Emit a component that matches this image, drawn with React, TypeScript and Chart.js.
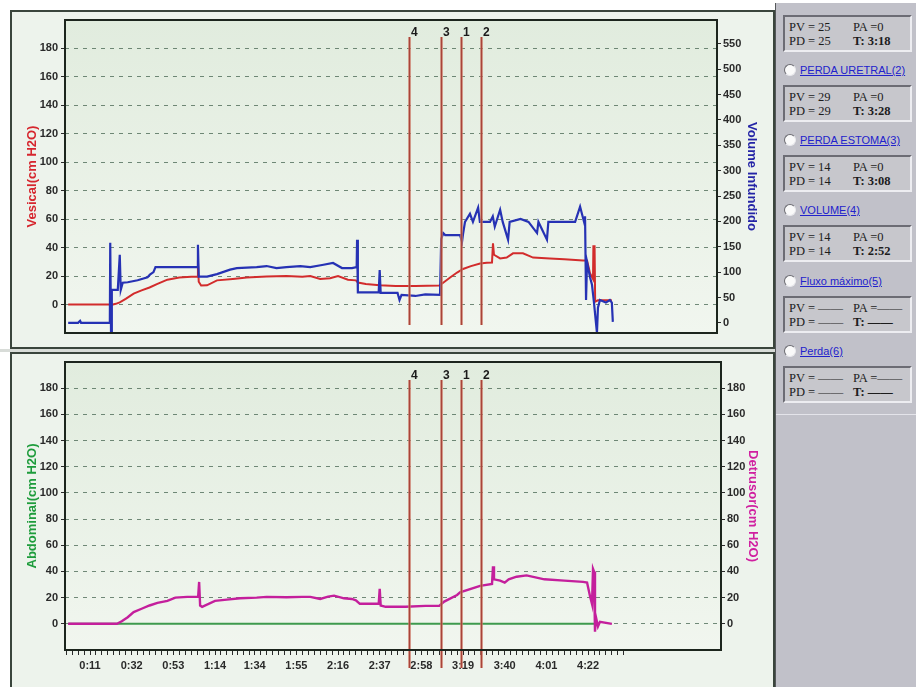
import React, { useEffect, useRef } from "react";
import { Chart, registerables } from "chart.js";
Chart.register(...registerables);

// ---------- DATA ----------
// time in seconds
const vesicalTimes = [0, 22.6, 24, 26, 29, 33, 37, 41, 45, 50, 56, 62, 65, 65.4, 65.8, 67, 70, 75, 83, 90, 100, 110, 118, 122, 127, 132, 136, 141, 145, 146, 150, 157, 165, 175, 187, 188.5, 192.5, 196, 199, 203, 207.6, 211, 213.6, 214.1, 214.6, 217.7, 221, 224.2, 229.2, 234.3, 242.8, 250, 259.5, 261.5, 263, 264.5, 264.7, 265.3, 265.6, 267, 274];
const vesicalValues = [0, 0, 0.5, 1.5, 4, 7.7, 10, 12, 14.5, 17.5, 19, 19.5, 19.5, 31, 16, 13.4, 13.5, 17, 18, 19, 19.7, 20, 19.5, 20, 18, 18.5, 20, 17.5, 17, 15.5, 14.5, 13.5, 13, 13, 13.4, 14.8, 19, 22.5, 25, 27, 28.9, 29.4, 29.6, 43, 35, 32.4, 33, 36, 36, 33, 32.4, 31.8, 31, 31, 22, 18, 41, 41, 2, 3, 3];

const volumeTimes = [0, 5, 6, 6.5, 21, 21.2, 21.6, 22, 25, 26, 26.5, 27.5, 30, 35, 40, 41.2, 43, 44, 55, 65, 65.4, 65.8, 70, 75, 81.6, 85, 95, 100, 105, 110, 117, 122, 128, 133.5, 138, 143, 145.4, 145.6, 146, 156.5, 157, 157.5, 166, 167, 168, 175, 180, 187.4, 188, 189, 190, 197.5, 198.5, 199, 200, 202.5, 204, 206.6, 207.5, 212.6, 214, 215, 217.7, 219, 221.7, 222.5, 228, 232, 236.3, 237, 241.3, 242, 248, 255.5, 258, 260, 260.5, 261, 261.5, 263, 264, 265, 266, 266.5, 267, 268, 271, 273, 274, 274.5];
const volumeValues = [0, 0, 4, 0, 0, 158, -20, 65, 65, 134, 65, 79, 80, 84, 90, 95, 100, 110, 110, 110, 154, 91, 91, 96, 105, 108, 110, 112, 108, 110, 112, 110, 114, 118, 108, 108, 110, 164, 60, 60, 104, 59, 59, 45, 55, 53, 56, 55, 165, 177, 173, 173, 160, 175, 199, 215, 199, 227, 199, 199, 210, 190, 223, 199, 164, 199, 205, 199, 177, 199, 164, 199, 199, 199, 229, 199, 210, 45, 120, 90, 75, 40, 0, -20, 30, 45, 40, 45, 40, 2];

const abdominalTimes = [0, 268];
const abdominalValues = [0, 0];

const detrusorTimes = [0, 24.6, 27, 30, 33, 37, 41, 45, 50, 54, 60, 65.5, 66, 66.5, 67.5, 74, 80, 86.6, 95, 100, 110, 118, 122, 127, 131, 134, 139, 143, 145, 147, 156.5, 157, 157.5, 160, 170, 180, 187, 189.5, 196, 197.5, 207.6, 213.6, 214.1, 214.6, 217.7, 220, 222, 226, 231, 240, 250, 259.5, 261.5, 263, 264, 264.5, 265, 265.5, 266, 267, 268, 274];
const detrusorValues = [0, 0, 2, 5, 9, 11.5, 14, 16, 17.5, 20, 20.6, 20.6, 32, 14, 13, 17.5, 18.5, 19.5, 20, 20.6, 20.3, 20.6, 20.6, 19, 20.8, 21.5, 19.5, 19, 18, 15.3, 15.3, 26.7, 14, 13, 13, 13.7, 13.7, 17, 22, 24, 29, 30.5, 44, 34, 33, 31.5, 34, 36, 37, 34, 33, 32, 31.5, 21, 15, 42, 40, -6, 5, -2, 1.5, 0];

const markerTimes = [172, 188, 198, 208];
const markerLabels = ["4", "3", "1", "2"];

const pressureTicks = [0, 20, 40, 60, 80, 100, 120, 140, 160, 180];
const volumeTicks = [0, 50, 100, 150, 200, 250, 300, 350, 400, 450, 500, 550];
const timeTickValues = [11, 32, 53, 74, 94, 115, 136, 157, 178, 199, 220, 241, 262];
const timeTickLabels = ["0:11", "0:32", "0:53", "1:14", "1:34", "1:55", "2:16", "2:37", "2:58", "3:19", "3:40", "4:01", "4:22"];

const panelLinks = ["PERDA URETRAL(2)", "PERDA ESTOMA(3)", "VOLUME(4)", "Fluxo máximo(5)", "Perda(6)"];
const panelPV = ["25", "29", "14", "14", "——", "——"];
const panelPA = ["0", "0", "0", "0", "——", "——"];
const panelPD = ["25", "29", "14", "14", "——", "——"];
const panelT = ["3:18", "3:28", "3:08", "2:52", "——", "——"];

// ---------- HELPERS ----------
const pts = (ts: number[], vs: number[]) => ts.map((t, i) => ({ x: t, y: vs[i] }));
const TICK_FONT = { family: "'Liberation Sans', Arial, sans-serif", size: 11, weight: "bold" as const };
const TITLE_FONT = { family: "'Liberation Sans', Arial, sans-serif", size: 13, weight: "bold" as const };
const GRID_COLOR = "rgba(70,100,80,0.75)";
const AXIS_DARK = "#2a2a2a";

const plotFrame = {
  id: "plotFrame",
  beforeDraw(chart: any) {
    const { ctx, chartArea: a } = chart;
    const g = ctx.createLinearGradient(0, a.top, 0, a.bottom);
    g.addColorStop(0, "#e1ecde");
    g.addColorStop(1, "#f1f6ef");
    ctx.save();
    ctx.fillStyle = g;
    ctx.fillRect(a.left, a.top, a.right - a.left, a.bottom - a.top);
    ctx.restore();
  },
  afterDraw(chart: any) {
    const { ctx, chartArea: a } = chart;
    ctx.save();
    ctx.strokeStyle = "#1c251d";
    ctx.lineWidth = 2;
    ctx.strokeRect(a.left, a.top, a.right - a.left, a.bottom - a.top);
    ctx.restore();
  },
};

const makeMarkers = (topOff: number, bottomOff: number, labelOff: number) => ({
  id: "markers",
  afterDatasetsDraw(chart: any) {
    const { ctx, chartArea: a, scales } = chart;
    const x = scales.x;
    ctx.save();
    markerTimes.forEach((t, i) => {
      const px = Math.round(x.getPixelForValue(t)) + 0.5;
      ctx.strokeStyle = "rgba(220,140,120,0.6)";
      ctx.lineWidth = 3;
      ctx.beginPath();
      ctx.moveTo(px, a.top + topOff);
      ctx.lineTo(px, a.bottom + bottomOff);
      ctx.stroke();
      ctx.strokeStyle = "#a8443a";
      ctx.lineWidth = 1.5;
      ctx.beginPath();
      ctx.moveTo(px, a.top + topOff);
      ctx.lineTo(px, a.bottom + bottomOff);
      ctx.stroke();
      ctx.fillStyle = "#1a1a1a";
      ctx.font = "bold 12px 'Liberation Sans', Arial, sans-serif";
      ctx.textAlign = "left";
      ctx.textBaseline = "middle";
      ctx.fillText(markerLabels[i], px + 1.5, a.top + labelOff);
    });
    ctx.restore();
  },
});

const yTicks = (vals: number[]) => (scale: any) => {
  scale.ticks = vals.map((v) => ({ value: v }));
};

const leftAxis = (title: string, color: string, width: number) => ({
  position: "left" as const,
  min: -20,
  max: 200,
  afterBuildTicks: yTicks(pressureTicks),
  afterFit: (s: any) => { s.width = width; },
  ticks: { font: TICK_FONT, color: AXIS_DARK, padding: 3, autoSkip: false },
  grid: { color: GRID_COLOR, lineWidth: 1, drawTicks: true, tickLength: 4, tickColor: AXIS_DARK, tickBorderDash: [] },
  border: { display: false, dash: [4, 5] },
  title: { display: true, text: title, color, font: TITLE_FONT, padding: { top: 15, bottom: 0 } },
});

const rightAxis = (title: string, color: string, width: number, min: number, max: number, ticks: number[], pad: number) => ({
  position: "right" as const,
  min,
  max,
  afterBuildTicks: yTicks(ticks),
  afterFit: (s: any) => { s.width = width; },
  ticks: { font: TICK_FONT, color: AXIS_DARK, padding: 2, autoSkip: false },
  grid: { drawOnChartArea: false, drawTicks: true, tickLength: 4, tickColor: AXIS_DARK },
  border: { display: false },
  title: { display: true, text: title, color, font: TITLE_FONT, padding: { top: pad, bottom: 0 } },
});

function TopChart() {
  const ref = useRef<HTMLCanvasElement>(null);
  useEffect(() => {
    const chart = new Chart(ref.current!, {
      type: "line",
      data: {
        datasets: [
          { data: pts(volumeTimes, volumeValues), yAxisID: "y1", borderColor: "#2632b4", borderWidth: 2.2, order: 0 },
          { data: pts(vesicalTimes, vesicalValues), yAxisID: "y", borderColor: "#d22c2c", borderWidth: 2, order: 1 },
        ],
      },
      options: {
        responsive: false,
        animation: false,
        events: [],
        layout: { padding: { top: 10, bottom: 15, left: 0, right: 0 } },
        plugins: { legend: { display: false }, tooltip: { enabled: false } },
        elements: { point: { radius: 0 }, line: { tension: 0 } },
        scales: {
          x: { type: "linear", min: -1.6, max: 327, display: false },
          y: leftAxis("Vesical(cm H2O)", "#d6262e", 55),
          y1: rightAxis("Volume Infundido", "#2424a6", 58, -20, 597, volumeTicks, 16),
        },
      } as any,
      plugins: [plotFrame, makeMarkers(17, -8, 13)],
    });
    return () => chart.destroy();
  }, []);
  return <canvas ref={ref} width={765} height={338} style={{ position: "absolute", left: 10, top: 10 }} />;
}

function BottomChart() {
  const ref = useRef<HTMLCanvasElement>(null);
  useEffect(() => {
    const chart = new Chart(ref.current!, {
      type: "line",
      data: {
        datasets: [
          { data: pts(detrusorTimes, detrusorValues), yAxisID: "y1", borderColor: "#c41f9c", borderWidth: 2.4, order: 0 },
          { data: pts(abdominalTimes, abdominalValues), yAxisID: "y", borderColor: "#3e9a4e", borderWidth: 2, order: 1 },
        ],
      },
      options: {
        responsive: false,
        animation: false,
        events: [],
        layout: { padding: { top: 10, bottom: 0, left: 0, right: 0 } },
        plugins: { legend: { display: false }, tooltip: { enabled: false } },
        elements: { point: { radius: 0 }, line: { tension: 0 } },
        scales: {
          x: {
            type: "linear",
            min: -1.6,
            max: 329,
            afterFit: (s: any) => { s.height = 37; },
            afterBuildTicks: (scale: any) => {
              const vals: number[] = [];
              const step = timeTickValues[1] - timeTickValues[0];
              for (let k = 6; k >= 1; k--) vals.push(timeTickValues[0] - (step * k) / 7);
              timeTickValues.forEach((v, i) => {
                vals.push(v);
                const next = i + 1 < timeTickValues.length ? timeTickValues[i + 1] : v + step;
                for (let k = 1; k < 7; k++) vals.push(v + ((next - v) * k) / 7);
              });
              scale.ticks = vals.filter((v) => v >= scale.min && v <= scale.max).map((v) => ({ value: v }));
            },
            ticks: {
              autoSkip: false,
              maxRotation: 0,
              minRotation: 0,
              padding: 4,
              font: TICK_FONT,
              color: AXIS_DARK,
              callback: (value: number) => {
                const i = timeTickValues.indexOf(value);
                return i >= 0 ? timeTickLabels[i] : "";
              },
            },
            grid: { drawOnChartArea: false, drawTicks: true, tickLength: 5, tickColor: AXIS_DARK },
            border: { display: false },
          },
          y: leftAxis("Abdominal(cm H2O)", "#1e9c3c", 55),
          y1: rightAxis("Detrusor(cm H2O)", "#d01fa0", 54, -20, 200, pressureTicks, 15),
        },
      } as any,
      plugins: [plotFrame, makeMarkers(18, 18, 14)],
    });
    return () => chart.destroy();
  }, []);
  return <canvas ref={ref} width={765} height={335} style={{ position: "absolute", left: 10, top: 352 }} />;
}

const boxTops = [15, 85, 155, 225, 296, 366];
const linkCenters = [70, 140, 210, 281, 351];

function SidePanel() {
  const serif = "'Liberation Serif', 'Times New Roman', serif";
  return (
    <div style={{ position: "absolute", left: 775, top: 3, width: 141, height: 684, background: "#c1c1c9", borderLeft: "1px solid #55585a", boxSizing: "border-box" }}>
      {boxTops.map((top, i) => (
        <div key={"b" + i} style={{ position: "absolute", left: 7, top: top - 3, width: 129, height: 37, background: "#c7c7cc", borderTop: "2px solid #6c6c74", borderLeft: "2px solid #6c6c74", borderBottom: "2px solid #ededf1", borderRight: "2px solid #ededf1", boxSizing: "border-box", fontFamily: serif, fontSize: 12.5, color: "#1c1c1c", lineHeight: "14px" }}>
          <div style={{ position: "absolute", left: 4, top: 3, whiteSpace: "nowrap" }}>PV = {panelPV[i]}</div>
          <div style={{ position: "absolute", left: 68, top: 3, whiteSpace: "nowrap" }}>PA ={panelPA[i]}</div>
          <div style={{ position: "absolute", left: 4, top: 17, whiteSpace: "nowrap" }}>PD = {panelPD[i]}</div>
          <div style={{ position: "absolute", left: 68, top: 17, whiteSpace: "nowrap", fontWeight: "bold" }}>T: {panelT[i]}</div>
        </div>
      ))}
      {linkCenters.map((c, i) => (
        <div key={"l" + i}>
          <div style={{ position: "absolute", left: 8, top: c - 3 - 6, width: 12, height: 12, borderRadius: "50%", background: "#fafafa", borderTop: "1px solid #6a6a70", borderLeft: "1px solid #6a6a70", borderBottom: "1px solid #e8e8ec", borderRight: "1px solid #e8e8ec", boxSizing: "border-box" }} />
          <div style={{ position: "absolute", left: 24, top: c - 3 - 8, height: 16, lineHeight: "16px", fontFamily: "'Liberation Sans', Arial, sans-serif", fontSize: 11, color: "#2222cc", textDecoration: "underline", whiteSpace: "nowrap" }}>
            {panelLinks[i]}
          </div>
        </div>
      ))}
      <div style={{ position: "absolute", left: 0, top: 411, width: 141, height: 1, background: "#e4e4ea" }} />
    </div>
  );
}

export default function App() {
  return (
    <div style={{ position: "absolute", left: 0, top: 0, width: 916, height: 687, background: "#ffffff", overflow: "hidden" }}>
      <div style={{ position: "absolute", left: 10, top: 10, width: 765, height: 339, background: "#edf3ec", border: "2px solid #3a453c", boxSizing: "border-box" }} />
      <div style={{ position: "absolute", left: 10, top: 352, width: 765, height: 345, background: "#edf3ec", border: "2px solid #3a453c", boxSizing: "border-box" }} />
      <div style={{ position: "absolute", left: 0, top: 349, width: 775, height: 3, background: "#d8dcd8" }} />
      <TopChart />
      <BottomChart />
      <SidePanel />
    </div>
  );
}
